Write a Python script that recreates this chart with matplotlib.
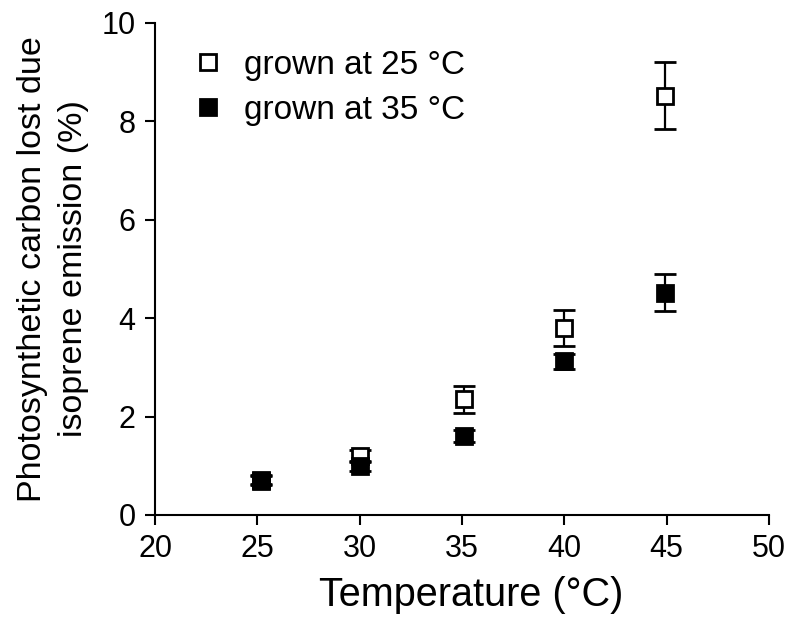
import matplotlib
matplotlib.use("Agg")
import matplotlib.pyplot as plt

plt.rcParams['font.family'] = ['Liberation Sans', 'DejaVu Sans']

temps = [25.2, 30.0, 35.1, 40.0, 44.9]
grown25 = [0.72, 1.2, 2.35, 3.8, 8.52]
grown25_err = [0.1, 0.12, 0.27, 0.37, 0.68]
grown35 = [0.7, 1.0, 1.6, 3.12, 4.52]
grown35_err = [0.1, 0.1, 0.12, 0.16, 0.37]

fig = plt.figure(figsize=(8, 6.27), dpi=100)
ax = fig.add_axes([155/800, 1 - 515/627, (769-155)/800, (515-23)/627])

ax.errorbar(temps, grown25, yerr=grown25_err, fmt='s', mfc='white', mec='black',
            mew=2, ms=12, ecolor='black', elinewidth=1.6, capsize=8, capthick=1.6,
            label='grown at 25 °C', zorder=2)
ax.errorbar(temps, grown35, yerr=grown35_err, fmt='s', mfc='black', mec='black',
            mew=2, ms=12, ecolor='black', elinewidth=1.6, capsize=8, capthick=1.6,
            label='grown at 35 °C', zorder=3)

ax.set_xlim(20, 50)
ax.set_ylim(0, 10)
ax.set_xticks([20, 25, 30, 35, 40, 45, 50])
ax.set_yticks([0, 2, 4, 6, 8, 10])
ax.spines['top'].set_visible(False)
ax.spines['right'].set_visible(False)
for s in ['left', 'bottom']:
    ax.spines[s].set_linewidth(1.5)
ax.tick_params(axis='both', direction='out', length=7, width=1.5, labelsize=22, pad=7)

ax.set_xlabel('Temperature (°C)', fontsize=28.5, labelpad=8)
ax.xaxis.label.set_x(0.515)
ax.set_ylabel('Photosynthetic carbon lost due\nisoprene emission (%)', fontsize=24.5,
              linespacing=1.4, labelpad=9)

handles, labels = ax.get_legend_handles_labels()
handles = [h[0] for h in handles]
ax.legend(handles, labels, loc='upper left', bbox_to_anchor=((191-155)/614, (515-50)/492),
          frameon=False, fontsize=24, handlelength=1.0, handletextpad=0.6,
          markerscale=0.95, labelspacing=0.42, borderpad=0, borderaxespad=0)

fig.savefig('out.png', dpi=100)
